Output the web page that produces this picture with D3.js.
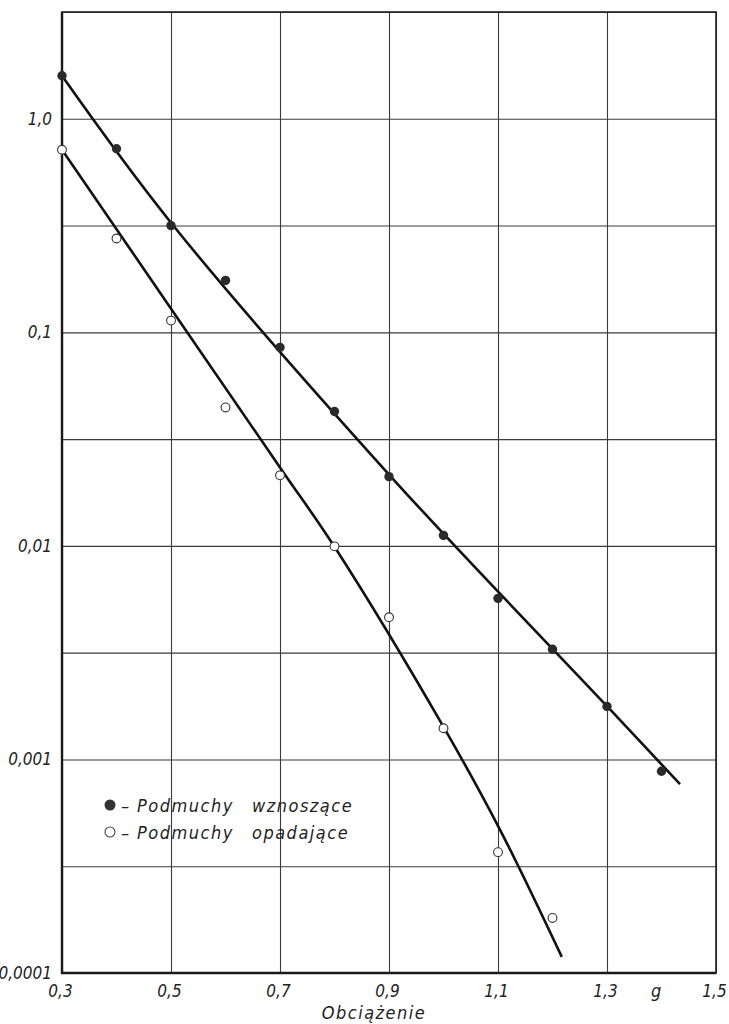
<!DOCTYPE html>
<html>
<head>
<meta charset="utf-8">
<script src="https://cdn.jsdelivr.net/npm/d3@7"></script>
<style>
  body { margin: 0; background: #fff; }
  text { font-family: "DejaVu Sans Condensed", "DejaVu Sans", sans-serif; font-style: italic; fill: #222; }
</style>
</head>
<body>
<div id="chart"></div>
<script>
// Measured points: load (g) and frequency (log scale)
var upLoad = [0.3, 0.4, 0.5, 0.6, 0.7, 0.8, 0.9, 1.0, 1.1, 1.2, 1.3, 1.4];
var upFreq = [1.59, 0.724, 0.316, 0.175, 0.085, 0.0426, 0.0211, 0.0112, 0.00568, 0.00328, 0.00177, 0.00088];
var downLoad = [0.3, 0.4, 0.5, 0.6, 0.7, 0.8, 0.9, 1.0, 1.1, 1.2];
var downFreq = [0.716, 0.275, 0.1135, 0.0445, 0.0214, 0.00995, 0.00463, 0.0014, 0.000368, 0.000181];

// Hand-drawn fitted curves
var upCurveLoad = [0.3, 0.5, 0.905, 1.3, 1.434];
var upCurveFreq = [1.589, 0.326, 0.0209, 0.001775, 0.000766];
var downCurveLoad = [0.3, 0.7, 0.8, 1.0, 1.104, 1.217];
var downCurveFreq = [0.716, 0.0233, 0.0099, 0.00142, 0.000467, 0.000119];

// Axes
var xTicks = [0.3, 0.5, 0.7, 0.9, 1.1, 1.3, 1.5];
var yTicks = [1, 0.1, 0.01, 0.001, 0.0001];
var yTickLabels = ["1,0", "0,1", "0,01", "0,001", "0,0001"];
var yGrid = [3.162, 1, 0.3162, 0.1, 0.03162, 0.01, 0.003162, 0.001, 0.0003162, 0.0001];
var unitLoad = 1.39;
var xTitle = "Obciążenie";
var legendLabels = ["Podmuchy ", "wznoszące", "Podmuchy ", "opadające"];

var plotLeft = 62, plotRight = 716, plotTop = 12, plotBottom = 973;

var svg = d3.select("#chart")
    .append("svg")
    .attr("width", 729)
    .attr("height", 1024);

svg.append("rect")
    .attr("width", 729)
    .attr("height", 1024)
    .attr("fill", "#fff");

var x = d3.scaleLinear()
    .domain([0.3, 1.5])
    .range([plotLeft, plotRight]);

var y = d3.scaleLog()
    .domain([0.0001, Math.sqrt(10)])
    .range([plotBottom, plotTop]);

// grid
svg.append("g")
    .attr("transform", "translate(0," + plotBottom + ")")
    .call(d3.axisBottom(x).tickValues(xTicks).tickSize(-(plotBottom - plotTop)).tickFormat(""))
    .call(function(g) { g.select(".domain").remove(); })
    .selectAll("line")
    .attr("stroke", "#3a3a3a")
    .attr("stroke-width", 1.1);

svg.append("g")
    .attr("transform", "translate(" + plotLeft + ",0)")
    .call(d3.axisLeft(y).tickValues(yGrid).tickSize(-(plotRight - plotLeft)).tickFormat(""))
    .call(function(g) { g.select(".domain").remove(); })
    .selectAll("line")
    .attr("stroke", "#3a3a3a")
    .attr("stroke-width", 1.1);

// frame
svg.append("rect")
    .attr("x", plotLeft)
    .attr("y", plotTop)
    .attr("width", plotRight - plotLeft)
    .attr("height", plotBottom - plotTop)
    .attr("fill", "none")
    .attr("stroke", "#222")
    .attr("stroke-width", 1.6);

svg.append("path")
    .attr("d", "M" + plotLeft + "," + plotTop + "V" + plotBottom + "H" + plotRight)
    .attr("fill", "none")
    .attr("stroke", "#1a1a1a")
    .attr("stroke-width", 2.4);

// tick labels
var xAxis = svg.append("g")
    .attr("transform", "translate(0," + plotBottom + ")")
    .call(d3.axisBottom(x).tickValues(xTicks).tickSize(0).tickPadding(12)
        .tickFormat(function(d) { return d3.format(".1f")(d).replace(".", ","); }));
xAxis.select(".domain").remove();
xAxis.selectAll("text")
    .attr("fill", "#222")
    .style("font-size", "17px")
    .attr("dx", -2);

svg.append("text")
    .attr("x", x(unitLoad))
    .attr("y", 997)
    .attr("text-anchor", "middle")
    .style("font-size", "18px")
    .text("g");

var yAxis = svg.append("g")
    .attr("transform", "translate(" + plotLeft + ",0)")
    .call(d3.axisLeft(y).tickValues(yTicks).tickSize(0).tickPadding(10)
        .tickFormat(function(d, i) { return yTickLabels[i]; }));
yAxis.select(".domain").remove();
yAxis.selectAll("text")
    .attr("fill", "#222")
    .style("font-size", "17px");

svg.append("text")
    .attr("x", 374)
    .attr("y", 1019)
    .attr("text-anchor", "middle")
    .style("font-size", "18px")
    .style("letter-spacing", "1.5px")
    .text(xTitle);

// fitted curves
var line = d3.line()
    .x(function(d) { return x(d[0]); })
    .y(function(d) { return y(d[1]); })
    .curve(d3.curveCatmullRom);

svg.append("path")
    .datum(d3.zip(upCurveLoad, upCurveFreq))
    .attr("fill", "none")
    .attr("stroke", "#111")
    .attr("stroke-width", 2.6)
    .attr("d", line);

svg.append("path")
    .datum(d3.zip(downCurveLoad, downCurveFreq))
    .attr("fill", "none")
    .attr("stroke", "#111")
    .attr("stroke-width", 2.6)
    .attr("d", line);

// points
svg.selectAll(".up")
    .data(d3.zip(upLoad, upFreq))
    .enter().append("circle")
    .attr("class", "up")
    .attr("cx", function(d) { return x(d[0]); })
    .attr("cy", function(d) { return y(d[1]); })
    .attr("r", 4.7)
    .attr("fill", "#2a2a2a");

svg.selectAll(".down")
    .data(d3.zip(downLoad, downFreq))
    .enter().append("circle")
    .attr("class", "down")
    .attr("cx", function(d) { return x(d[0]); })
    .attr("cy", function(d) { return y(d[1]); })
    .attr("r", 4.4)
    .attr("fill", "#fff")
    .attr("stroke", "#333")
    .attr("stroke-width", 1.1);

// legend
var legend = svg.append("g");
[0, 1].forEach(function(i) {
    var ly = 805 + i * 27;
    legend.append("circle")
        .attr("cx", 110)
        .attr("cy", ly)
        .attr("r", i === 0 ? 5.5 : 5)
        .attr("fill", i === 0 ? "#333" : "#fff")
        .attr("stroke", "#444")
        .attr("stroke-width", i === 0 ? 0 : 1.1);
    legend.append("text")
        .attr("x", 121)
        .attr("y", ly + 7)
        .style("font-size", "18px")
        .text("–");
    var t = legend.append("text")
        .attr("y", ly + 7)
        .style("font-size", "18px")
        .style("letter-spacing", "1.5px");
    t.append("tspan").attr("x", 137).text(legendLabels[i * 2]);
    t.append("tspan").attr("x", 252).text(legendLabels[i * 2 + 1]);
});
</script>
</body>
</html>
